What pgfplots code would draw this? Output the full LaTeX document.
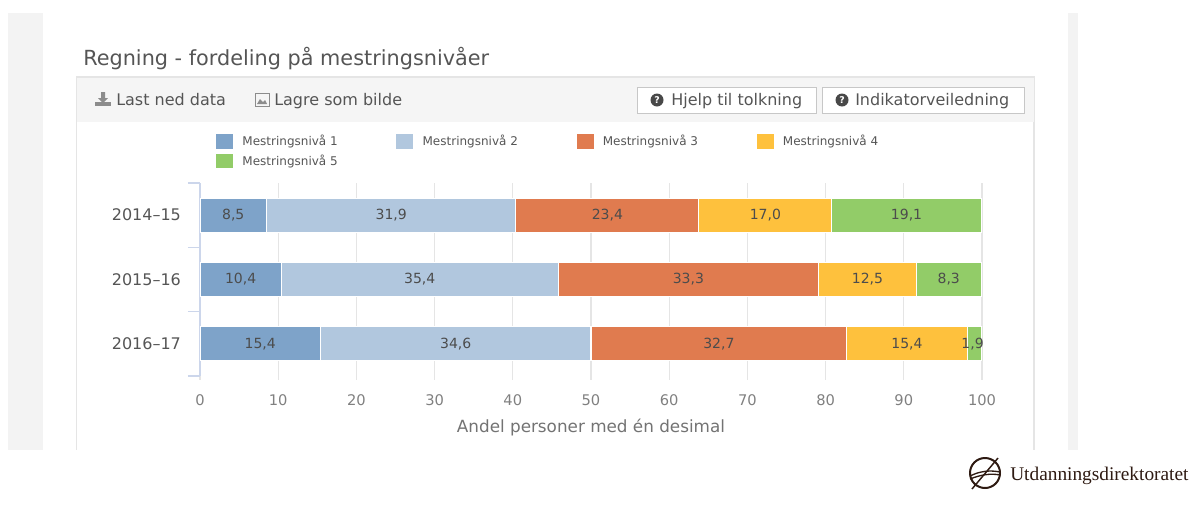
\documentclass[border=0pt]{standalone}
\usepackage{fontspec}
\setmainfont{DejaVu Sans}
\newfontfamily\logofont{Liberation Serif}
\usepackage{pgfplots}
\pgfplotsset{compat=1.18}
\definecolor{niva1}{HTML}{7EA3C9}
\definecolor{niva2}{HTML}{B1C7DE}
\definecolor{niva3}{HTML}{E07B4F}
\definecolor{niva4}{HTML}{FEC13D}
\definecolor{niva5}{HTML}{92CC68}
\definecolor{txt}{HTML}{555555}
\definecolor{band}{HTML}{F3F3F3}
\definecolor{logoc}{HTML}{2E1A12}
\definecolor{axisblue}{HTML}{CCD6EB}
\newcommand{\qicon}[2]{%
  \fill[txt!85!black] (#1,#2) circle (6.5);
  \node[text=white,font=\fontsize{7}{7}\selectfont\bfseries,inner sep=0] at (#1,#2) {?};}
\begin{document}
\begin{tikzpicture}[x=0.75pt,y=-0.75pt]
\path[use as bounding box] (0,0) rectangle (1190,504);
% page furniture
\fill[band] (8,13) rectangle (43,450);
\fill[band] (1068,13) rectangle (1078,450);
\draw[black!10,line width=0.8pt] (76.5,450) -- (76.5,77) -- (1034,77) -- (1034,450);
\fill[black!4] (77,78) rectangle (1033.5,122);
\node[anchor=base west,inner sep=0,text=txt,font=\fontsize{15.6}{16}\selectfont] at (83,65) {Regning - fordeling på mestringsnivåer};
% toolbar
\fill[black!45] (95,102) rectangle (111,106);
\fill[black!45] (101,92) rectangle (105,98) (98,98) -- (108,98) -- (103,103) -- cycle;
\node[anchor=base west,inner sep=0,text=txt,font=\fontsize{12}{14}\selectfont] at (116,105) {Last ned data};
\draw[black!45,line width=0.7pt] (255,93) rectangle (269,106);
\fill[black!45] (257,104) -- (260,99) -- (263,102) -- (265,100) -- (267,104) -- cycle;
\node[anchor=base west,inner sep=0,text=txt,font=\fontsize{12}{14}\selectfont] at (274,105) {Lagre som bilde};
\draw[black!22,fill=white,line width=0.7pt] (637,87) rectangle (816,113);
\draw[black!22,fill=white,line width=0.7pt] (822,87) rectangle (1024,113);
\qicon{657}{100}
\qicon{842}{100}
\node[anchor=base west,inner sep=0,text=txt,font=\fontsize{12}{14}\selectfont] at (671,105) {Hjelp til tolkning};
\node[anchor=base west,inner sep=0,text=txt,font=\fontsize{12}{14}\selectfont] at (855,105) {Indikatorveiledning};
% bars
\begin{axis}[
  at={(150pt,-282pt)}, anchor=south west,
  scale only axis, width=586.5pt, height=144.75pt,
  xbar stacked, bar width=25.5pt,
  xmin=0, xmax=100, ymin=-0.5, ymax=2.5, y dir=reverse,
  axis y line=left, axis x line=bottom,
  axis line style={-},
  y axis line style={draw=axisblue,line width=1.2pt},
  x axis line style={draw=none},
  xtick={0,10,...,100},
  ytick={0,1,2},
  yticklabels={2014--15,2015--16,2016--17},
  minor ytick={-0.5,0.5,1.5,2.5},
  xmajorgrids,
  major x grid style={black!10,line width=0.8pt},
  tick align=outside,
  xtick style={draw=black!10,line width=0.8pt,/pgfplots/major tick length=3pt},
  ytick style={draw=none,/pgfplots/major tick length=0pt},
  minor y tick style={draw=axisblue,line width=0.8pt,/pgfplots/minor tick length=9pt},
  /pgf/number format/assume math mode=true,
  xticklabel style={text=black!50,font=\fontsize{11}{12}\selectfont,yshift=-6pt},
  yticklabel style={text=txt,font=\fontsize{12}{13}\selectfont,xshift=-6.5pt},
  xlabel={Andel personer med én desimal},
  xlabel style={text=black!55,font=\fontsize{12.6}{14}\selectfont,yshift=-3.5pt},
  legend columns=4,
  legend cell align=left,
  legend style={at={(0.0205,1.264)},anchor=north west,draw=none,fill=none,
    inner sep=0pt,font=\fontsize{9}{13}\selectfont,text=txt,
    /tikz/row sep=1.5pt,
    /tikz/every even column/.append style={column sep=42pt}},
  legend image code/.code={\fill[#1,draw=none] (0pt,-5.5pt) rectangle (12.75pt,5.5pt);\path (17.25pt,0pt);},
]
\addplot[fill=niva1,draw=white,line width=0.8pt] coordinates {(8.5,0) (10.4,1) (15.4,2)};
\addplot[fill=niva2,draw=white,line width=0.8pt] coordinates {(31.9,0) (35.4,1) (34.6,2)};
\addplot[fill=niva3,draw=white,line width=0.8pt] coordinates {(23.4,0) (33.3,1) (32.7,2)};
\addplot[fill=niva4,draw=white,line width=0.8pt] coordinates {(17.0,0) (12.5,1) (15.4,2)};
\addplot[fill=niva5,draw=white,line width=0.8pt] coordinates {(19.1,0) (8.3,1) (1.9,2)};
\legend{Mestringsnivå 1,Mestringsnivå 2,Mestringsnivå 3,Mestringsnivå 4,Mestringsnivå 5}
\end{axis}
% labels centred in the segments
\begin{axis}[
  at={(150pt,-282pt)}, anchor=south west,
  scale only axis, width=586.5pt, height=144.75pt,
  xmin=0, xmax=100, ymin=-0.5, ymax=2.5, y dir=reverse,
  hide axis, clip=false,
]
\addplot[only marks,mark=none,point meta=explicit symbolic,
  nodes near coords,
  every node near coord/.style={anchor=center,inner sep=0,text=black!70,font=\fontsize{10.5}{11}\selectfont}]
  table[x=x,y=y,meta=l] {
x y l
4.25 0 8,5
24.45 0 31,9
52.1 0 23,4
72.3 0 17,0
90.35 0 19,1
5.2 1 10,4
28.1 1 35,4
62.45 1 33,3
85.35 1 12,5
95.75 1 8,3
7.7 2 15,4
32.7 2 34,6
66.35 2 32,7
90.4 2 15,4
98.8 2 1,9
};
\end{axis}
% logo
\draw[logoc,line width=1.5pt] (985,473) circle (15);
\draw[logoc,line width=1.1pt] (972,489) -- (998,458);
\draw[logoc,line width=1pt] (970,476) .. controls (980,471) and (990,470) .. (1000,472);
\draw[logoc,line width=1pt] (970,479) .. controls (980,475) and (990,473) .. (1000,475);
\node[anchor=base west,inner sep=0,text=logoc,font=\logofont\fontsize{14.5}{15}\selectfont] at (1010,480) {Utdanningsdirektoratet};
\end{tikzpicture}
\end{document}
